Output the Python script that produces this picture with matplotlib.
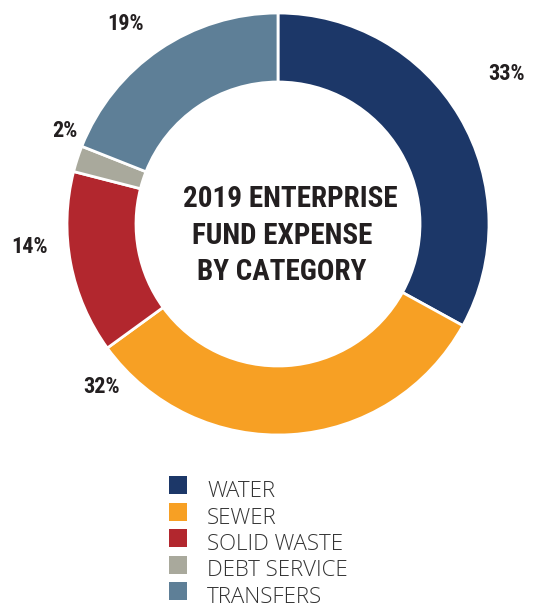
import matplotlib
matplotlib.use("Agg")
import matplotlib.pyplot as plt
from matplotlib.patches import Rectangle
import numpy as np

categories = ["WATER", "SEWER", "SOLID WASTE", "DEBT SERVICE", "TRANSFERS"]
values = [33, 32, 14, 2, 19]
pct_labels = ["33%", "32%", "14%", "2%", "19%"]
colors = ["#1C3768", "#F7A024", "#B2272E", "#A9A99C", "#5E7F97"]
title_lines = ["2019 ENTERPRISE", "FUND EXPENSE", "BY CATEGORY"]

W, H = 533, 609
fig = plt.figure(figsize=(W / 100, H / 100), dpi=100)
ax = fig.add_axes([0, 0, 1, 1])

cx, cy = 278, H - 224
R, ring = 211, 69
ax.pie(values, colors=colors, startangle=90, counterclock=False,
       center=(cx, cy), radius=R, frame=True,
       wedgeprops=dict(width=ring, edgecolor="white", linewidth=2))
ax.set_xlim(0, W)
ax.set_ylim(0, H)
ax.set_aspect("equal")
ax.axis("off")

cond = ["Roboto Condensed", "DejaVu Sans"]
dark = "#231F20"
# label baseline placement (angle deg, radius px) per slice
label_pos = [(32.2, 270.5), (223.7, 244.7), (186.7, 249.7), (157.8, 230.1), (128.1, 246.5)]
for lab, (ang, r) in zip(pct_labels, label_pos):
    a = np.deg2rad(ang)
    ax.text(cx + r * np.cos(a), cy + r * np.sin(a), lab, ha="center", va="baseline",
            fontsize=16, fontweight="bold", family=cond, color=dark)

# centre title, one line per text (baseline offsets from ring centre)
title_x = [12, 4, 4]
title_dy = [17, -20, -56]
for line, dx, dy in zip(title_lines, title_x, title_dy):
    ax.text(cx + dx, cy + dy, line, ha="center", va="baseline", fontsize=21,
            fontweight="bold", family=cond, color=dark)

# legend
pitch = 26.5
for i, (cat, col) in enumerate(zip(categories, colors)):
    top = H - 476 - pitch * i
    ax.add_patch(Rectangle((169, top - 18), 18, 18, facecolor=col, edgecolor="none"))
    ax.text(207, top - 21, cat, ha="left", va="baseline", fontsize=16,
            family=["Open Sans", "DejaVu Sans"], fontweight="light", color="#333333")

fig.savefig("out.png", dpi=100)
